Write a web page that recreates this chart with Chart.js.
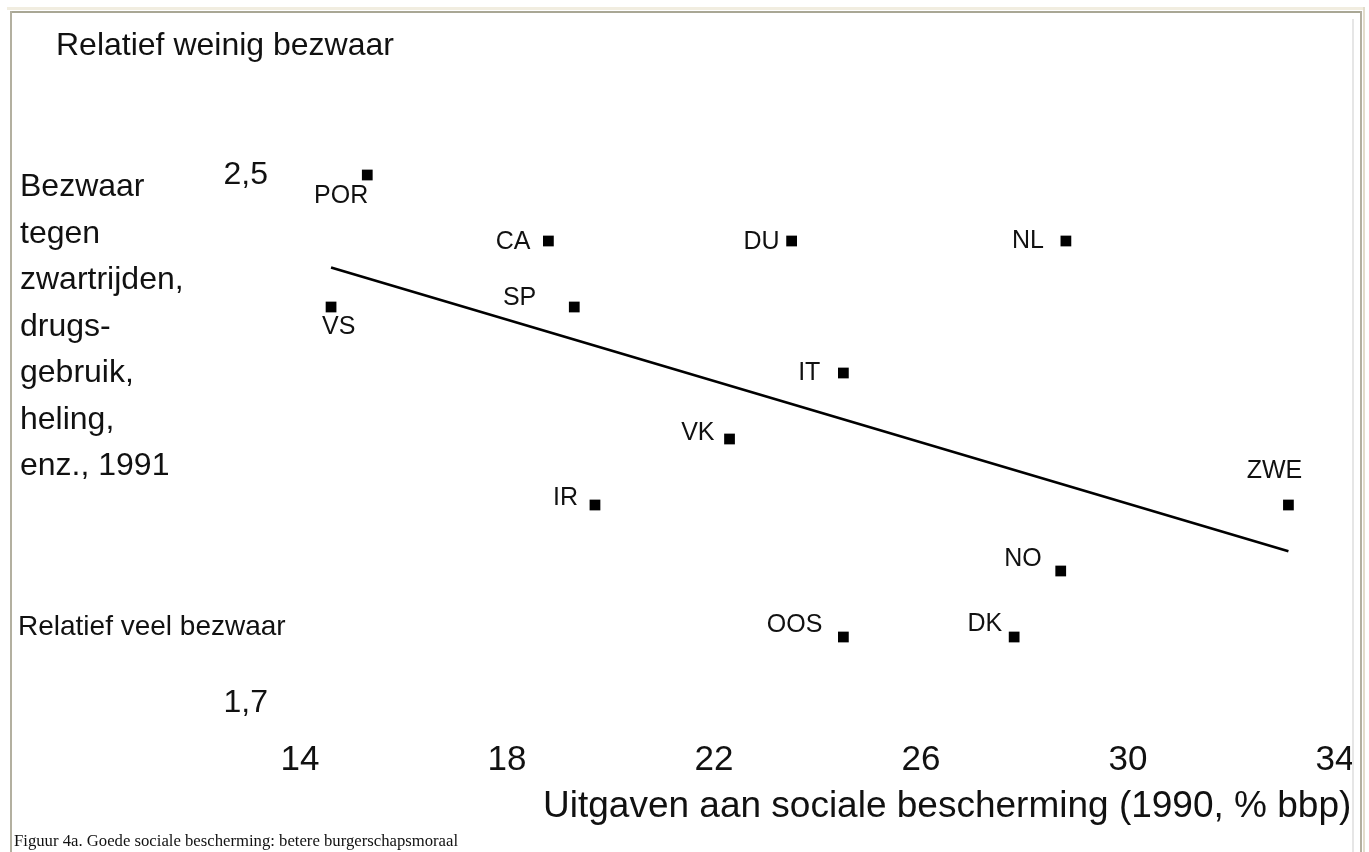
<!DOCTYPE html>
<html><head><meta charset="utf-8">
<script src="https://cdn.jsdelivr.net/npm/chart.js@4.4.1/dist/chart.umd.min.js"></script>
<style>
html,body{margin:0;padding:0;background:#fff;width:1369px;height:852px;overflow:hidden;}
#wrap{position:relative;width:1369px;height:852px;}
canvas{position:absolute;left:0;top:0;}
.t{position:absolute;font-family:"Liberation Sans",Arial,sans-serif;color:#111;white-space:nowrap;line-height:1;}
.ln{position:absolute;z-index:5;}
</style></head>
<body><div id="wrap">
<canvas id="c" width="1369" height="852"></canvas>
<div class="t" style="left:56px;top:28px;font-size:32px;">Relatief weinig bezwaar</div>
<div class="t" style="left:20px;top:162px;font-size:32px;line-height:46.5px;">Bezwaar<br>tegen<br>zwartrijden,<br>drugs-<br>gebruik,<br>heling,<br>enz., 1991</div>
<div class="t" style="left:18px;top:612px;font-size:28px;">Relatief veel bezwaar</div>
<div class="t" style="left:543px;top:786px;font-size:37px;">Uitgaven aan sociale bescherming (1990, % bbp)</div>
<div class="t" style="left:14px;top:833px;font-size:16.7px;font-family:'Liberation Serif','Times New Roman',serif;">Figuur 4a. Goede sociale bescherming: betere burgerschapsmoraal</div>
<div class="ln" style="left:1354px;top:13px;width:6px;height:839px;background:#fff;"></div>
<div class="ln" style="left:1365px;top:7px;width:4px;height:845px;background:#fff;"></div>
<div class="ln" style="left:7px;top:7px;width:1358px;height:3px;background:#f1ede0;"></div>
<div class="ln" style="left:10px;top:11px;width:1352px;height:2px;background:#a9a795;"></div>
<div class="ln" style="left:10px;top:11px;width:2px;height:841px;background:#b3b0a0;"></div>
<div class="ln" style="left:1360px;top:11px;width:2px;height:841px;background:#b3b0a0;"></div>
<div class="ln" style="left:1363px;top:7px;width:2px;height:845px;background:#e2ddcc;"></div>
<div class="ln" style="left:1352px;top:19px;width:2px;height:833px;background:#e6e6e6;"></div>
</div>
<script>
const countries = ['POR','CA','DU','NL','SP','VS','IT','VK','IR','ZWE','NO','OOS','DK'];
const spending  = [15.3, 18.8, 23.5, 28.8, 19.3, 14.6, 24.5, 22.3, 19.7, 33.1, 28.7, 24.5, 27.8];
const objection = [2.5, 2.4, 2.4, 2.4, 2.3, 2.3, 2.2, 2.1, 2.0, 2.0, 1.9, 1.8, 1.8];
const trendX = [14.6, 33.1];
const trendY = [2.36, 1.93];
const xTicks = [14, 18, 22, 26, 30, 34];
const yTicks = [1.7, 2.5];
const yTickLabels = ['1,7', '2,5'];
// label placement relative to its marker: [dx, dy, align]
const labelPlacement = [
  [1, 21, 'right'], [-18, 1, 'right'], [-12, 1, 'right'], [-22, 0, 'right'],
  [-38, -9, 'right'], [-9, 20, 'left'], [-23, 0, 'right'], [-15, -6, 'right'],
  [-17, -7, 'right'], [-14, -34, 'center'], [-19, -12, 'right'], [-21, -12, 'right'],
  [-12, -13, 'right']
];

const FONT = '"Liberation Sans", Arial, sans-serif';

const pointLabels = {
  id: 'pointLabels',
  afterDatasetsDraw(chart) {
    const ctx = chart.ctx, xs = chart.scales.x, ys = chart.scales.y;
    ctx.save();
    ctx.font = '25px ' + FONT;
    ctx.fillStyle = '#111';
    ctx.textBaseline = 'middle';
    countries.forEach((name, i) => {
      const p = labelPlacement[i];
      ctx.textAlign = p[2];
      ctx.fillText(name, xs.getPixelForValue(spending[i]) + p[0], ys.getPixelForValue(objection[i]) + p[1]);
    });
    ctx.restore();
  }
};

new Chart(document.getElementById('c'), {
  type: 'scatter',
  data: {
    datasets: [
      {
        data: countries.map((c, i) => ({x: spending[i], y: objection[i]})),
        pointStyle: 'rect', pointRadius: 7.6, pointHoverRadius: 7.6,
        backgroundColor: '#000', borderWidth: 0, clip: false
      },
      {
        data: trendX.map((x, i) => ({x: x, y: trendY[i]})),
        showLine: true, borderColor: '#000', borderWidth: 2.6,
        pointRadius: 0, clip: false
      }
    ]
  },
  options: {
    responsive: false, animation: false,
    layout: {padding: {left: 200, right: 34, top: 175, bottom: 49}},
    plugins: {legend: {display: false}, tooltip: {enabled: false}},
    scales: {
      x: {
        type: 'linear', min: 14, max: 34,
        afterBuildTicks: s => { s.ticks = xTicks.map(v => ({value: v})); },
        afterFit: s => { s.height = 100; s.paddingLeft = 0; s.paddingRight = 0; },
        grid: {display: false, drawTicks: false}, border: {display: false},
        ticks: {padding: 36, color: '#111', font: {family: FONT, size: 35}, maxRotation: 0, autoSkip: false,
                callback: v => String(v)}
      },
      y: {
        type: 'linear', min: 1.7, max: 2.5,
        afterBuildTicks: s => { s.ticks = yTicks.map(v => ({value: v})); },
        afterFit: s => { s.width = 100; s.paddingTop = 0; s.paddingBottom = 0; },
        grid: {display: false, drawTicks: false}, border: {display: false},
        ticks: {padding: 32, color: '#111', font: {family: FONT, size: 32}, autoSkip: false,
                callback: v => yTickLabels[yTicks.indexOf(v)]}
      }
    }
  },
  plugins: [pointLabels]
});
</script>
</body></html>
